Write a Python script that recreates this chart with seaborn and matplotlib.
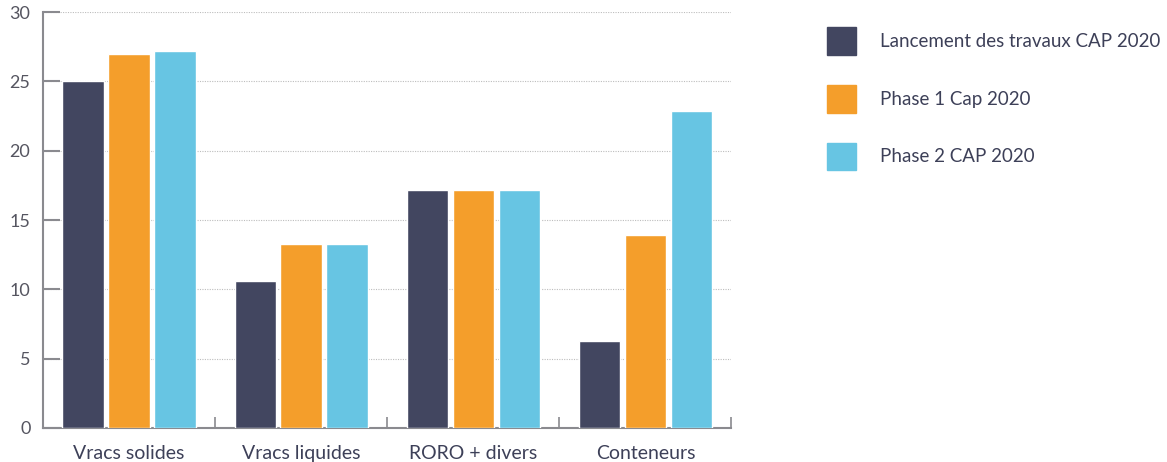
import seaborn as sns
import pandas as pd
import matplotlib.pyplot as plt
from matplotlib.ticker import FixedLocator

categories = ["Vracs solides", "Vracs liquides", "RORO + divers", "Conteneurs"]
series = ["Lancement des travaux CAP 2020", "Phase 1 Cap 2020", "Phase 2 CAP 2020"]
lancement = [25.0, 10.6, 17.2, 6.3]
phase1 = [27.0, 13.3, 17.2, 13.9]
phase2 = [27.2, 13.3, 17.2, 22.9]
colors = ["#424660", "#f49e2b", "#67c5e3"]

rows = []
for s, vals in zip(series, [lancement, phase1, phase2]):
    for c, v in zip(categories, vals):
        rows.append({"cat": c, "serie": s, "val": v})
df = pd.DataFrame(rows)

sns.set_style("white")
plt.rcParams["font.family"] = ["Lato", "DejaVu Sans"]

fig = plt.figure(figsize=(11.67, 4.62), dpi=100)
ax = fig.add_axes([0.0368, 0.0736, 0.590, 0.900])

sns.barplot(data=df, x="cat", y="val", hue="serie", palette=colors,
            saturation=1, width=0.8, gap=0.1, ax=ax, zorder=3, legend=False)

ax.set_xlim(-0.5, 3.5)
ax.set_ylim(0, 30)
ax.set_yticks(range(0, 31, 5))
ax.set_xlabel("")
ax.set_ylabel("")

ax.yaxis.grid(True, linestyle=(0, (1, 1.2)), color="#bdbdbd", linewidth=0.8, zorder=0)
ax.set_axisbelow(True)

for side in ["top", "right"]:
    ax.spines[side].set_visible(False)
for side in ["left", "bottom"]:
    ax.spines[side].set_color("#8a8a8f")
    ax.spines[side].set_linewidth(1.5)

ax.tick_params(axis="y", left=True, direction="in", length=12, width=1.5,
               color="#8a8a8f", labelsize=13, labelcolor="#555560", pad=9)
ax.tick_params(axis="x", which="major", length=0, labelsize=14,
               labelcolor="#3d4058", pad=12)
ax.xaxis.set_minor_locator(FixedLocator([0.5, 1.5, 2.5, 3.5]))
ax.tick_params(axis="x", which="minor", bottom=True, direction="in", length=8,
               width=1.2, color="#8a8a8f")

handles = [plt.Rectangle((0, 0), 1, 1, color=c) for c in colors]
fig.legend(handles, series, loc="upper left", bbox_to_anchor=(0.694, 0.978),
           frameon=False, fontsize=13.5, handlelength=1.55, handleheight=1.9,
           labelspacing=1.6, handletextpad=1.3, labelcolor="#3d4058")

fig.savefig("out.png", dpi=100)
